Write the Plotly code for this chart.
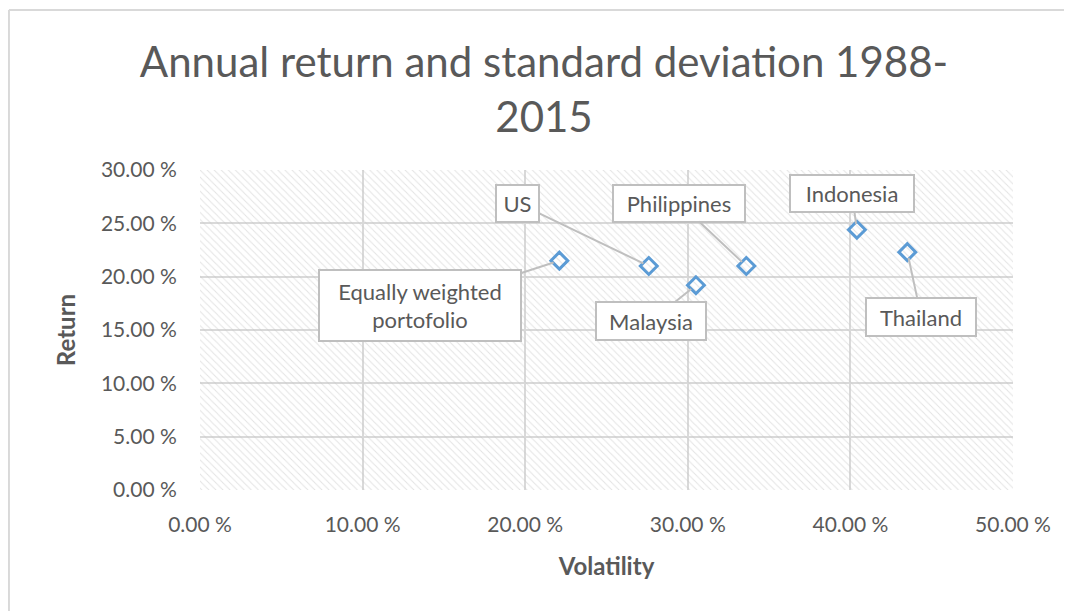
import plotly.graph_objects as go

names = ["Equally weighted<br>portofolio", "US", "Malaysia", "Philippines", "Indonesia", "Thailand"]
volatility = [0.221, 0.276, 0.305, 0.336, 0.404, 0.435]
returns = [0.215, 0.210, 0.192, 0.210, 0.244, 0.223]

# callout layout (pixels): offset of box centre from its point, and box size
label_ax = [-139, -131, -45, -67, -5, 14]
label_ay = [45, -63, 36, -63, -36, 65]
label_w = [196, 37, 104, 126, 118, 104]
label_h = [65, 31, 32, 31, 31, 32]

x_range = [0, 0.5]
y_range = [0, 0.3]

FONT = "Lato"
TXT = "#595959"
GRID = "#d9d9d9"

fig = go.Figure()

# hatched plot-area background
fig.add_trace(go.Scatter(
    x=[x_range[0], x_range[1], x_range[1], x_range[0], x_range[0]],
    y=[y_range[0], y_range[0], y_range[1], y_range[1], y_range[0]],
    mode="lines", line=dict(width=0), fill="toself",
    fillcolor="rgba(0,0,0,0)",
    fillpattern=dict(shape="\\", fgcolor="#c8c8c8", bgcolor="rgba(0,0,0,0)", size=5, solidity=0.2),
    hoverinfo="skip", showlegend=False,
))

fig.add_trace(go.Scatter(
    x=volatility, y=returns, mode="markers",
    marker=dict(symbol="diamond-open", size=13, color="#5b9bd5", line=dict(width=3, color="#5b9bd5")),
    showlegend=False,
))

for n, xv, yv, ax, ay, w, h in zip(names, volatility, returns, label_ax, label_ay, label_w, label_h):
    fig.add_annotation(
        x=xv, y=yv, text=n, showarrow=True, ax=ax, ay=ay,
        width=w, height=h, align="center", valign="middle",
        arrowhead=0, arrowwidth=2, arrowcolor="#bfbfbf", standoff=6,
        bgcolor="white", bordercolor="#bfbfbf", borderwidth=2, borderpad=2,
        font=dict(family=FONT, size=22, color=TXT),
    )

# outer chart frame (top and left edges only)
fig.add_shape(type="line", xref="paper", yref="paper", x0=-0.235, x1=1.2, y0=1.5, y1=1.5,
              line=dict(color=GRID, width=2))
fig.add_shape(type="line", xref="paper", yref="paper", x0=-0.235, x1=-0.235, y0=-0.5, y1=1.5,
              line=dict(color=GRID, width=2))

fig.update_layout(
    width=1064, height=603,
    margin=dict(l=192, r=59, t=162, b=121),
    paper_bgcolor="white", plot_bgcolor="white",
    title=dict(text="Annual return and standard deviation 1988-<br>2015", x=536 / 1064, xanchor="center",
               xref="container", yref="container",
               y=1 - 69 / 603, yanchor="top", font=dict(family=FONT, size=42, color=TXT)),
    font=dict(family=FONT, color=TXT),
    xaxis=dict(range=x_range, tickvals=[0, 0.1, 0.2, 0.3, 0.4, 0.5],
               ticktext=["0.00 %", "10.00 %", "20.00 %", "30.00 %", "40.00 %", "50.00 %"],
               showgrid=True, gridcolor=GRID, gridwidth=2, zeroline=False, showline=False,
               tickfont=dict(family=FONT, size=21, color=TXT),
               ticks="outside", ticklen=16, tickcolor="rgba(0,0,0,0)",
               title=dict(text="<b>Volatility</b>", font=dict(family=FONT, size=24, color=TXT), standoff=22)),
    yaxis=dict(range=y_range, tickvals=[0, 0.05, 0.1, 0.15, 0.2, 0.25, 0.3],
               ticktext=["0.00 %", "5.00 %", "10.00 %", "15.00 %", "20.00 %", "25.00 %", "30.00 %"],
               showgrid=True, gridcolor=GRID, gridwidth=2, zeroline=False, showline=False,
               tickfont=dict(family=FONT, size=21, color=TXT),
               ticks="outside", ticklen=18, tickcolor="rgba(0,0,0,0)",
               title=dict(text="<b>Return</b>", font=dict(family=FONT, size=24, color=TXT), standoff=18)),
)

fig.write_html("out.html")
